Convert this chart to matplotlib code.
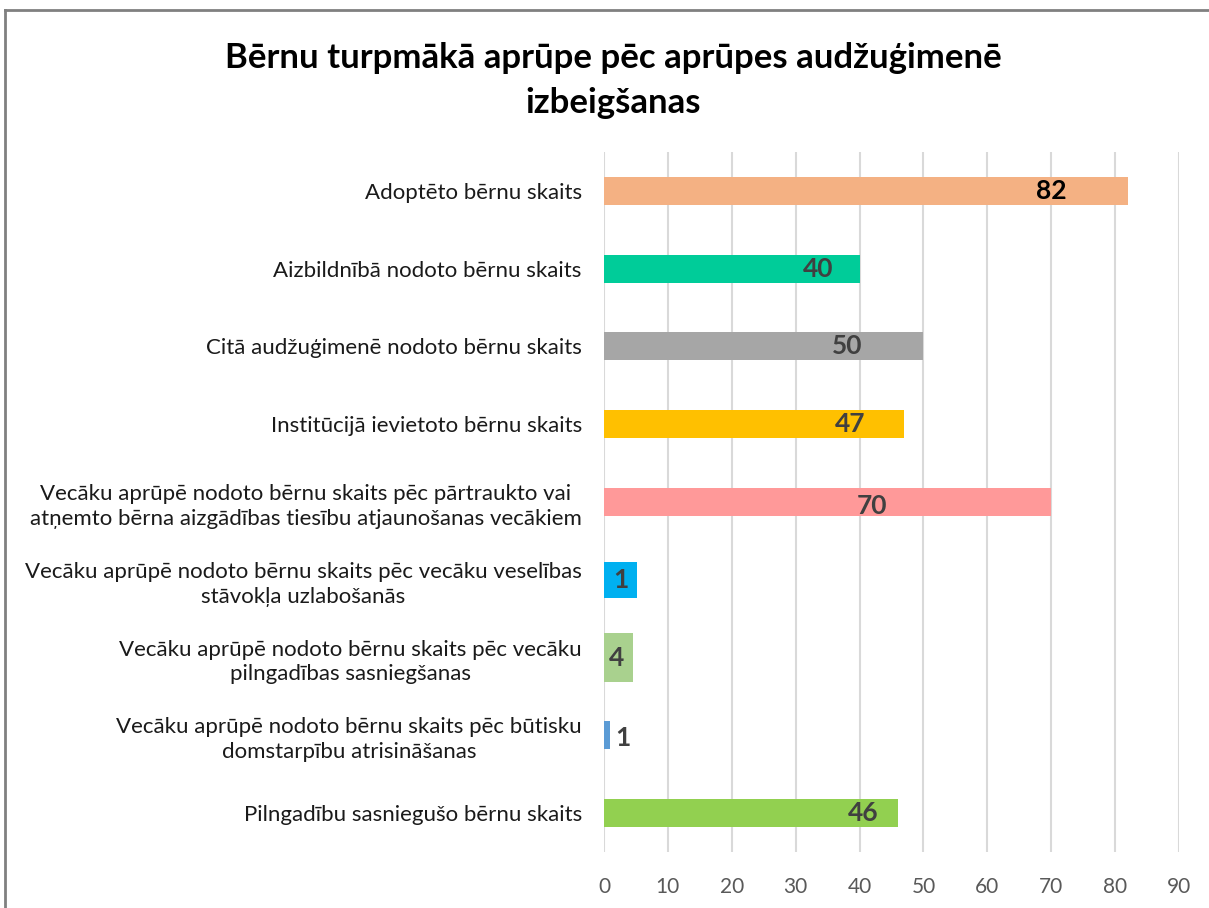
import matplotlib
matplotlib.use("Agg")
from matplotlib import pyplot as plt
from matplotlib.lines import Line2D

plt.rcParams['font.family'] = ['Lato', 'DejaVu Sans']

categories = [
    "Adoptēto bērnu skaits",
    "Aizbildnībā nodoto bērnu skaits",
    "Citā audžuģimenē nodoto bērnu skaits",
    "Institūcijā ievietoto bērnu skaits",
    "Vecāku aprūpē nodoto bērnu skaits pēc pārtraukto vai\natņemto bērna aizgādības tiesību atjaunošanas vecākiem",
    "Vecāku aprūpē nodoto bērnu skaits pēc vecāku veselības\nstāvokļa uzlabošanās",
    "Vecāku aprūpē nodoto bērnu skaits pēc vecāku\npilngadības sasniegšanas",
    "Vecāku aprūpē nodoto bērnu skaits pēc būtisku\ndomstarpību atrisināšanas",
    "Pilngadību sasniegušo bērnu skaits",
]
# printed values
values = [82, 40, 50, 47, 70, 1, 4, 1, 46]
# bar lengths as drawn in the picture
bar_len = [82, 40, 50, 47, 70, 5.2, 4.6, 0.9, 46]
colors = ['#F4B183', '#00CC99', '#A6A6A6', '#FFC000', '#FF9999',
          '#00B0F0', '#A9D18E', '#5B9BD5', '#92D050']
heights = [0.36, 0.36, 0.36, 0.36, 0.36, 0.46, 0.62, 0.36, 0.36]
label_x = [70, 33.5, 38, 38.5, 42, 2.6, 2, 3, 40.5]
label_dy = [0, 0, 0, 0, 0.05, 0, 0, 0.03, 0]
label_col = ['black'] + ['#404040'] * 8

fig = plt.figure(figsize=(12.09, 9.08), dpi=100)
ax = fig.add_axes([604 / 1209, 1 - 852 / 908, 575 / 1209, 700 / 908])

y = list(range(len(categories)))
ax.barh(y, bar_len, height=heights, color=colors, clip_on=False, zorder=3)
for i in y:
    ax.text(label_x[i], i + label_dy[i], str(values[i]), ha='center', va='center',
            fontsize=19, fontweight='bold', color=label_col[i], zorder=4)

ax.set_xlim(0, 90)
ax.set_ylim(8.5, -0.5)
ax.set_xticks(range(0, 91, 10))
ax.set_yticks(y)
ax.set_yticklabels(categories, fontsize=16, color='#1a1a1a', linespacing=1.3)
for lbl in ax.get_yticklabels():
    lbl.set_multialignment('center')
ax.tick_params(axis='y', length=0, pad=16)
ax.tick_params(axis='x', length=0, pad=18, labelsize=15, labelcolor='#595959')
ax.xaxis.grid(True, color='#D9D9D9', linewidth=1.5, zorder=0)
for s in ax.spines.values():
    s.set_visible(False)

fig.text(0.507, 1 - 58 / 908, "Bērnu turpmākā aprūpe pēc aprūpes audžuģimenē",
         ha='center', va='center', fontsize=25, fontweight='bold')
fig.text(0.507, 1 - 103 / 908, "izbeigšanas",
         ha='center', va='center', fontsize=25, fontweight='bold')

# outer frame
fig.add_artist(Line2D([5 / 1209, 5 / 1209], [0, 1 - 10 / 908], color='#808080', linewidth=2))
fig.add_artist(Line2D([5 / 1209, 1], [1 - 10 / 908, 1 - 10 / 908], color='#808080', linewidth=2))

plt.savefig('out.png', dpi=100)
